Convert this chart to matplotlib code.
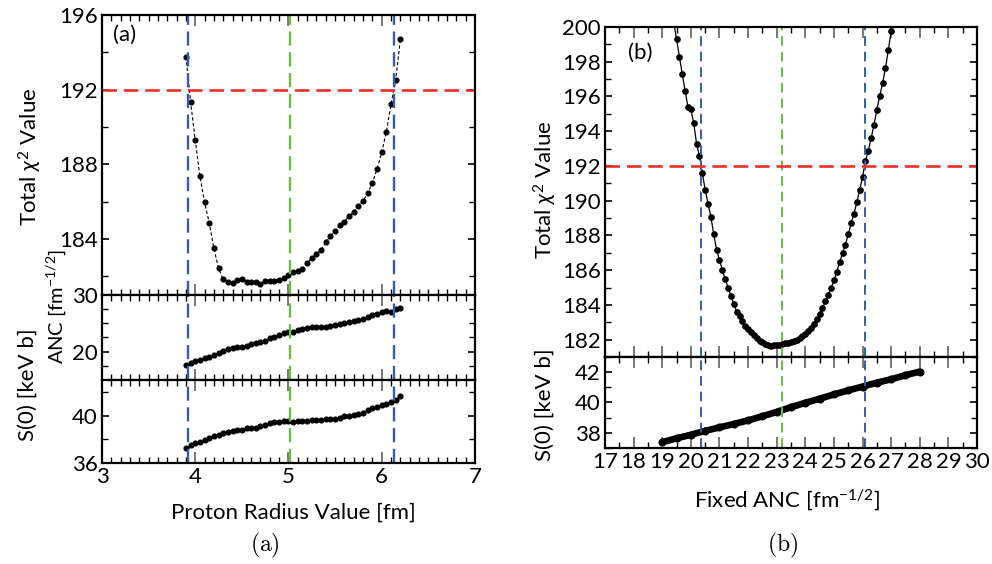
"""
Chi-square scans: proton radius (a) and fixed ANC (b)
"""
import matplotlib
matplotlib.use("Agg")
import matplotlib.pyplot as plt
from matplotlib.ticker import MultipleLocator

plt.rcParams["font.family"] = ["Lato", "DejaVu Sans"]
plt.rcParams["mathtext.fontset"] = "custom"
plt.rcParams["mathtext.rm"] = "Lato"
plt.rcParams["mathtext.it"] = "Lato:italic"

# ---- panel (a) data: scan over proton radius ----
radius = [3.90, 3.95, 4.00, 4.05, 4.10, 4.15, 4.20, 4.25, 4.30, 4.35, 4.40, 4.45,
          4.50, 4.55, 4.60, 4.65, 4.70, 4.75, 4.80, 4.85, 4.90, 4.95, 5.00, 5.05,
          5.10, 5.15, 5.20, 5.25, 5.30, 5.35, 5.40, 5.45, 5.50, 5.55, 5.60, 5.65,
          5.70, 5.75, 5.80, 5.85, 5.90, 5.95, 6.00, 6.05, 6.10, 6.15, 6.20]
chi2_a = [193.77, 191.36, 189.30, 187.37, 185.96, 184.87, 183.50, 182.43, 181.84,
          181.68, 181.66, 181.80, 181.86, 181.71, 181.71, 181.70, 181.57, 181.73,
          181.75, 181.77, 181.82, 181.91, 182.07, 182.21, 182.29, 182.41, 182.70,
          182.96, 183.20, 183.41, 183.82, 184.16, 184.43, 184.73, 184.93, 185.23,
          185.45, 185.77, 186.04, 186.45, 187.02, 187.75, 188.64, 189.75, 191.21,
          192.50, 194.70]
anc_a = [17.62, 18.08, 18.37, 18.60, 18.84, 19.13, 19.36, 19.71, 20.12, 20.41,
         20.70, 20.81, 20.87, 20.99, 21.28, 21.45, 21.69, 21.86, 22.33, 22.67,
         22.91, 23.26, 23.43, 23.49, 23.78, 24.01, 24.19, 24.30, 24.36, 24.36,
         24.42, 24.53, 24.77, 24.88, 25.12, 25.29, 25.35, 25.52, 25.81, 26.10,
         26.40, 26.63, 27.03, 27.09, 26.98, 27.44, 27.67]
s0_a = [37.24, 37.49, 37.69, 37.80, 37.92, 38.11, 38.31, 38.39, 38.51, 38.59,
        38.68, 38.76, 38.82, 38.93, 38.99, 38.93, 39.10, 39.24, 39.38, 39.44,
        39.49, 39.52, 39.55, 39.49, 39.52, 39.58, 39.58, 39.61, 39.63, 39.66,
        39.72, 39.69, 39.72, 39.83, 39.94, 40.00, 40.08, 40.14, 40.20, 40.45,
        40.65, 40.76, 40.93, 41.01, 41.18, 41.35, 41.63]

# ---- panel (b) data: scan over fixed ANC ----
anc_fixed = [19.4, 19.5, 19.6, 19.7, 19.8, 19.9, 20.0, 20.1, 20.2, 20.3, 20.4,
             20.5, 20.6, 20.7, 20.8, 20.9, 21.0, 21.1, 21.2, 21.3, 21.4, 21.5,
             21.6, 21.7, 21.8, 21.9, 22.0, 22.1, 22.2, 22.3, 22.4, 22.5, 22.6,
             22.7, 22.8, 22.9, 23.0, 23.1, 23.2, 23.3, 23.4, 23.5, 23.6, 23.7,
             23.8, 23.9, 24.0, 24.1, 24.2, 24.3, 24.4, 24.5, 24.6, 24.7, 24.8,
             24.9, 25.0, 25.1, 25.2, 25.3, 25.4, 25.5, 25.6, 25.7, 25.8, 25.9,
             26.0, 26.1, 26.2, 26.3, 26.4, 26.5, 26.6, 26.7, 26.8, 26.9, 27.0,
             27.1]
chi2_b = [200.30, 199.29, 198.28, 197.29, 196.31, 195.38, 195.26, 194.46, 193.27,
          192.59, 191.59, 190.64, 189.83, 189.07, 188.06, 187.16, 186.58, 186.01,
          185.48, 185.00, 184.52, 184.05, 183.62, 183.35, 183.05, 182.80, 182.60,
          182.42, 182.26, 182.10, 181.95, 181.84, 181.74, 181.67, 181.65, 181.67,
          181.67, 181.69, 181.73, 181.79, 181.83, 181.88, 181.94, 182.00, 182.08,
          182.19, 182.32, 182.48, 182.65, 182.92, 183.18, 183.47, 183.81, 184.20,
          184.57, 184.95, 185.41, 185.92, 186.45, 186.98, 187.47, 188.06, 188.69,
          189.23, 189.92, 190.62, 191.38, 192.30, 192.86, 193.60, 194.36, 195.25,
          196.03, 196.77, 197.63, 198.68, 199.75, 200.80]
anc_s0 = [19.0, 19.5, 20.0, 20.5, 21.0, 21.5, 22.0, 22.5, 23.0, 23.5, 24.0, 24.5,
          25.0, 25.5, 26.0, 26.5, 27.0, 27.5, 28.0]
s0_b = [37.38, 37.64, 37.87, 38.13, 38.36, 38.58, 38.82, 39.09, 39.38, 39.69,
        39.98, 40.25, 40.53, 40.80, 41.05, 41.31, 41.53, 41.80, 42.04]

# chi2 cut and the bounds / best values it gives
chi2_cut = 192.0
radius_lines = [3.925, 5.02, 6.13]
anc_lines = [20.36, 23.2, 26.09]

RED = "#e8302a"
BLUE = "#3b5ba8"
GREEN = "#6dbb47"
FS = 16


def style_axis(ax, show_xlabels):
    for sp in ax.spines.values():
        sp.set_linewidth(1.6)
    ax.tick_params(which="both", direction="in", top=True, right=True,
                   labelsize=FS, pad=3)
    ax.tick_params(axis="x", which="major", length=8, width=1.4, color="#777777")
    ax.tick_params(axis="x", which="minor", length=4, width=1.0)
    ax.tick_params(axis="y", which="major", length=5, width=1.2)
    ax.tick_params(axis="y", which="minor", length=4, width=1.0)
    if not show_xlabels:
        ax.tick_params(axis="x", labelbottom=False)


def add_guides(ax, xs, lw, dash, hline=False):
    ax.axvline(xs[0], color=BLUE, lw=lw, dashes=dash)
    ax.axvline(xs[1], color=GREEN, lw=lw, dashes=dash)
    ax.axvline(xs[2], color=BLUE, lw=lw, dashes=dash)
    if hline:
        ax.axhline(chi2_cut, color=RED, lw=1.9, dashes=(5.5, 2.6))


fig = plt.figure(figsize=(9.92, 5.64), dpi=100)

# ---------- (a) ----------
ax1 = fig.add_axes([0.1028, 0.4770, 0.376, 0.4965])
ax2 = fig.add_axes([0.1028, 0.3262, 0.376, 0.1508])
ax3 = fig.add_axes([0.1028, 0.1791, 0.376, 0.1471])

ax1.plot(radius, chi2_a, color="k", lw=0.8, ls=(0, (3, 2)), marker="o", ms=3.4)
add_guides(ax1, radius_lines, 1.7, (6, 2.8), hline=True)
ax1.set_ylim(181, 196)
ax1.yaxis.set_major_locator(MultipleLocator(4))
ax1.yaxis.set_minor_locator(MultipleLocator(2))
ax1.text(3.12, 194.95, "(a)", fontsize=FS, va="center")

ax2.plot(radius, anc_a, "o", color="k", ms=3.4)
add_guides(ax2, radius_lines, 1.7, (6, 2.8))
ax2.set_ylim(15, 30)
ax2.yaxis.set_major_locator(MultipleLocator(10))
ax2.yaxis.set_minor_locator(MultipleLocator(2.5))

ax3.plot(radius, s0_a, "o", color="k", ms=3.4)
add_guides(ax3, radius_lines, 1.7, (6, 2.8))
ax3.set_ylim(36, 43)
ax3.yaxis.set_major_locator(MultipleLocator(4))
ax3.yaxis.set_minor_locator(MultipleLocator(2))

for ax in (ax1, ax2, ax3):
    ax.set_xlim(3, 7)
    ax.xaxis.set_major_locator(MultipleLocator(1))
    ax.xaxis.set_minor_locator(MultipleLocator(0.1))
    style_axis(ax, ax is ax3)

# ---------- (b) ----------
bx1 = fig.add_axes([0.6099, 0.3670, 0.375, 0.5851])
bx2 = fig.add_axes([0.6099, 0.2057, 0.375, 0.1613])

bx1.plot(anc_fixed, chi2_b, color="k", lw=0.9, marker="o", ms=3.8)
add_guides(bx1, anc_lines, 1.4, (5, 3), hline=True)
bx1.set_ylim(181, 200)
bx1.yaxis.set_major_locator(MultipleLocator(2))
bx1.yaxis.set_minor_locator(MultipleLocator(1))
bx1.text(17.8, 198.5, "(b)", fontsize=FS, va="center")

bx2.plot(anc_s0, s0_b, color="k", lw=4.8, marker="o", ms=4.8,
         solid_capstyle="round")
add_guides(bx2, anc_lines, 1.4, (5, 3))
bx2.set_ylim(37, 43)
bx2.yaxis.set_major_locator(MultipleLocator(2))
bx2.yaxis.set_minor_locator(MultipleLocator(1))

for ax in (bx1, bx2):
    ax.set_xlim(17, 30)
    ax.xaxis.set_major_locator(MultipleLocator(1))
    ax.xaxis.set_minor_locator(MultipleLocator(0.5))
    style_axis(ax, ax is bx2)

# axis labels placed by hand, as in the original layout
H = 564.0
W = 992.0
fig.text(30 / W, 1 - 157 / H, r"Total $\chi^{2}$ Value", rotation=90,
         ha="center", va="center", fontsize=FS)
fig.text(56 / W, 1 - 306 / H, r"ANC [fm$^{-1/2}$]", rotation=90,
         ha="center", va="center", fontsize=FS - 1.5)
fig.text(28 / W, 1 - 385 / H, "S(0) [keV b]", rotation=90,
         ha="center", va="center", fontsize=FS)
fig.text(293 / W, 1 - 513 / H, "Proton Radius Value [fm]",
         ha="center", va="center", fontsize=FS)

fig.text(545 / W, 1 - 190 / H, r"Total $\chi^{2}$ Value", rotation=90,
         ha="center", va="center", fontsize=FS)
fig.text(545 / W, 1 - 405 / H, "S(0) [keV b]", rotation=90,
         ha="center", va="center", fontsize=FS)
fig.text(787 / W, 1 - 500 / H, r"Fixed ANC [fm$^{-1/2}$]",
         ha="center", va="center", fontsize=FS)

# sub-figure captions in a Computer Modern look
fig.text(265 / W, 1 - 545 / H, r"$\mathrm{(a)}$", ha="center", va="center",
         fontsize=17, math_fontfamily="cm")
fig.text(783 / W, 1 - 545 / H, r"$\mathrm{(b)}$", ha="center", va="center",
         fontsize=17, math_fontfamily="cm")

fig.savefig("out.png", dpi=100)
